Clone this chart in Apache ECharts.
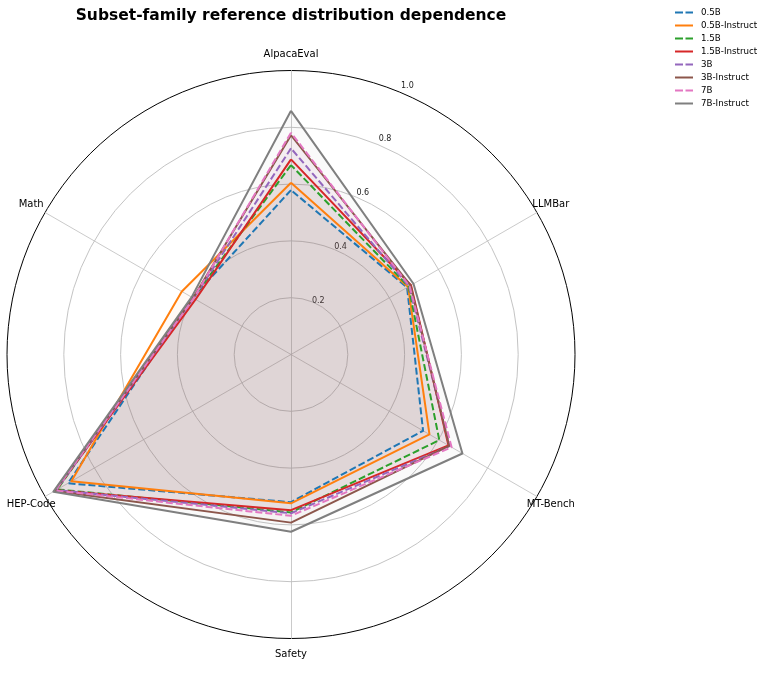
<!DOCTYPE html>
<html>
<head>
<meta charset="utf-8">
<script src="https://cdn.jsdelivr.net/npm/echarts@6/dist/echarts.min.js"></script>
<style>
html,body{margin:0;padding:0;background:#fff;}
#chart{width:762px;height:698px;}
</style>
</head>
<body>
<div id="chart"></div>
<script>
// Axes listed counter-clockwise from the top (ECharts radar direction)
const axes = ['AlpacaEval', 'Math', 'HEP-Code', 'Safety', 'MT-Bench', 'LLMBar'];
const radialTicks = [0.2, 0.4, 0.6, 0.8, 1.0];

const seriesNames = ['0.5B', '0.5B-Instruct', '1.5B', '1.5B-Instruct', '3B', '3B-Instruct', '7B', '7B-Instruct'];
const colors = ['#1f77b4', '#ff7f0e', '#2ca02c', '#d62728', '#9467bd', '#8c564b', '#e377c2', '#7f7f7f'];
const dashed = [true, false, true, false, true, false, true, false];

// values in axis order: AlpacaEval, Math, HEP-Code, Safety, MT-Bench, LLMBar
const v_05B      = [0.579, 0.400, 0.907, 0.520, 0.537, 0.472];
const v_05B_Inst = [0.605, 0.444, 0.893, 0.524, 0.563, 0.476];
const v_15B      = [0.667, 0.398, 0.950, 0.556, 0.603, 0.478];
const v_15B_Inst = [0.687, 0.388, 0.956, 0.548, 0.640, 0.488];
const v_3B       = [0.726, 0.396, 0.955, 0.559, 0.645, 0.480];
const v_3B_Inst  = [0.772, 0.398, 0.962, 0.592, 0.643, 0.486];
const v_7B       = [0.781, 0.396, 0.958, 0.568, 0.653, 0.482];
const v_7B_Inst  = [0.858, 0.404, 0.966, 0.624, 0.697, 0.498];
const allValues = [v_05B, v_05B_Inst, v_15B, v_15B_Inst, v_3B, v_3B_Inst, v_7B, v_7B_Inst];

const titleText = 'Subset-family reference distribution dependence';

const chart = echarts.init(document.getElementById('chart'), null, {renderer: 'canvas'});
const FONT = 'DejaVu Sans';
const CX = 291, CY = 354.5, R = 284;

const dashIcon = 'path://M0,0h8v2h-8z M10.5,0h7.5v2h-7.5z';
const solidIcon = 'path://M0,0h18v2h-18z';

// fills first (below), then all lines on top
const areaSeries = seriesNames.map((n, i) => ({
  type: 'radar',
  name: n,
  symbol: 'none',
  z: 2,
  itemStyle: {color: colors[i]},
  lineStyle: {width: 0, opacity: 0},
  areaStyle: {color: colors[i], opacity: 0.04},
  data: [{value: allValues[i], name: n}]
}));
const lineSeries = seriesNames.map((n, i) => ({
  type: 'radar',
  name: n,
  symbol: 'none',
  z: 3,
  itemStyle: {color: colors[i]},
  lineStyle: {color: colors[i], width: 2, type: dashed[i] ? [7, 3] : 'solid'},
  data: [{value: allValues[i], name: n}]
}));

const option = {
  backgroundColor: '#fff',
  animation: false,
  color: colors,
  title: {
    text: titleText,
    left: CX - 5, top: 3, textAlign: 'center',
    textStyle: {fontFamily: FONT, fontSize: 15.5, fontWeight: 'bold', color: '#000'}
  },
  legend: {
    orient: 'vertical',
    left: 675, top: 7, padding: 0,
    itemWidth: 18, itemHeight: 2, itemGap: 2,
    textStyle: {fontFamily: FONT, fontSize: 8.7, color: '#000', lineHeight: 11, padding: [0, 0, 0, 3]},
    data: seriesNames.map((n, i) => ({name: n, icon: dashed[i] ? dashIcon : solidIcon}))
  },
  radar: {
    center: [CX, CY],
    radius: R,
    startAngle: 90,
    shape: 'circle',
    splitNumber: 5,
    nameGap: 16,
    axisName: {fontFamily: FONT, fontSize: 10, color: '#000', align: 'center', verticalAlign: 'middle', padding: [3, 0, 0, 0]},
    indicator: axes.map(a => ({name: a, min: 0, max: 1})),
    axisLine: {lineStyle: {color: '#bdbdbd', width: 0.8}},
    splitLine: {lineStyle: {color: ['#c4c4c4', '#c4c4c4', '#c4c4c4', '#c4c4c4', '#c4c4c4', '#000'], width: 1}},
    splitArea: {show: false},
    axisTick: {show: false},
    axisLabel: {show: false}
  },
  polar: {center: [CX, CY], radius: 291},
  angleAxis: {type: 'value', min: 0, max: 360, startAngle: 67.5, show: false},
  radiusAxis: {
    type: 'value', min: 0, max: 1, interval: 0.2,
    axisLine: {show: false}, axisTick: {show: false}, splitLine: {show: false},
    axisLabel: {
      fontFamily: FONT, fontSize: 8, color: '#222', margin: 0, align: 'center', verticalAlign: 'middle',
      padding: [4, 0, 0, 10],
      formatter: v => radialTicks.some(t => Math.abs(t - v) < 1e-9) ? v.toFixed(1) : ''
    }
  },
  series: areaSeries.concat(lineSeries)
};
chart.setOption(option);
</script>
</body>
</html>
